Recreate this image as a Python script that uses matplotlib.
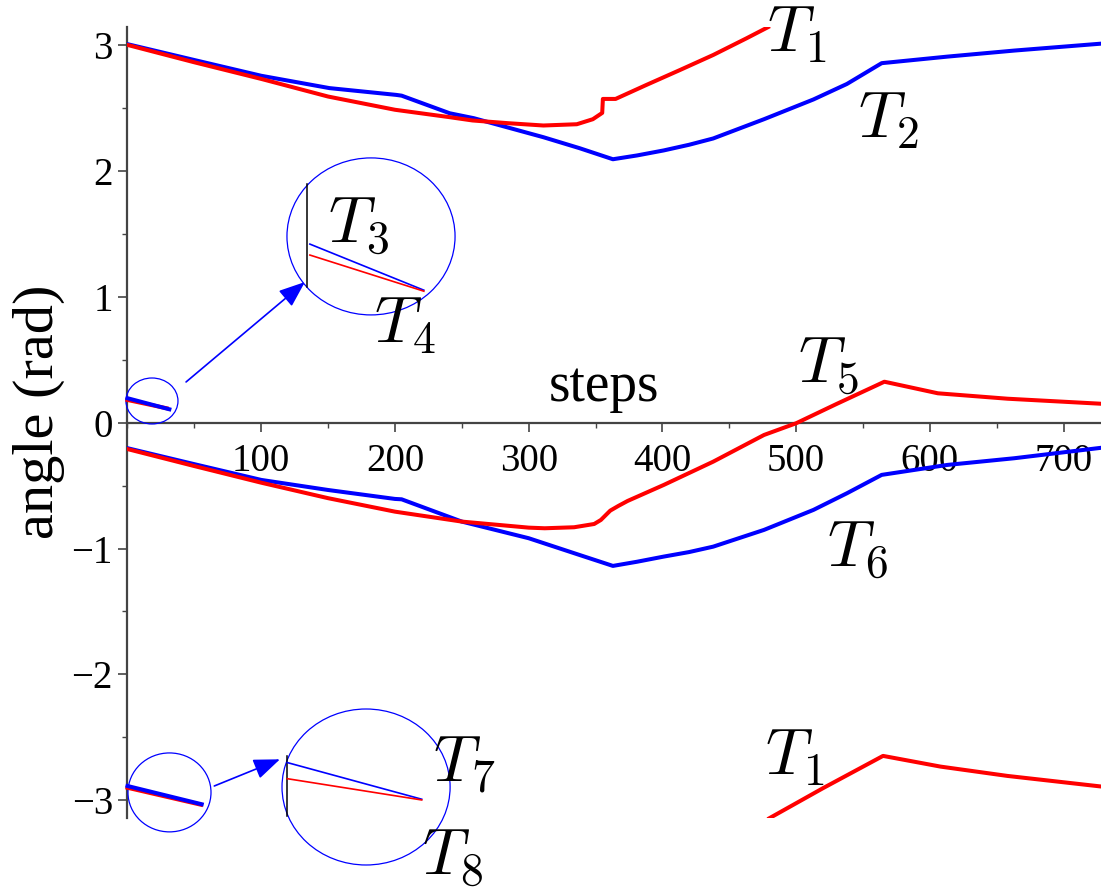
"""
Angle traces T1..T8 over simulation steps, with zoom-in circles near the origin.
"""
import matplotlib
matplotlib.use("Agg")
import matplotlib.pyplot as plt
from matplotlib.patches import Ellipse
from matplotlib.ticker import MultipleLocator

plt.rcParams["font.family"] = ["Liberation Serif", "DejaVu Serif"]
plt.rcParams["mathtext.fontset"] = "cm"

# ---- data (steps, angle in rad) ----
t1_x = [0, 50, 100, 150, 200, 241, 258, 285, 311, 336, 348, 355, 355.5, 365, 388, 413, 438, 463, 479]
t1_y = [3.00, 2.862, 2.73, 2.59, 2.485, 2.426, 2.40, 2.378, 2.36, 2.37, 2.41, 2.46, 2.571, 2.571,
        2.682, 2.80, 2.92, 3.053, 3.141]

# T1 wrapped past pi, continues from -pi
t1w_x = [480, 520, 565, 608, 658, 728]
t1w_y = [-3.142, -2.904, -2.647, -2.732, -2.806, -2.89]

t2_x = [0, 50, 100, 151, 201, 205, 241, 259, 311, 338, 363, 381, 401, 420, 438, 476, 513, 538, 564,
        613, 663, 728]
t2_y = [3.006, 2.88, 2.755, 2.657, 2.603, 2.597, 2.457, 2.418, 2.267, 2.18, 2.092, 2.122, 2.162,
        2.207, 2.257, 2.41, 2.567, 2.69, 2.855, 2.907, 2.955, 3.01]

t5_x = [0, 50, 100, 150, 200, 250, 300, 312, 334, 349, 354, 361, 367, 374, 401, 438, 476, 500, 530,
        566, 606, 658, 728]
t5_y = [-0.21, -0.345, -0.477, -0.60, -0.707, -0.786, -0.834, -0.839, -0.831, -0.805, -0.773, -0.699,
        -0.662, -0.622, -0.495, -0.31, -0.098, -0.005, 0.147, 0.325, 0.233, 0.19, 0.15]

t6_x = [0, 50, 100, 150, 200, 205, 250, 300, 338, 363, 381, 401, 420, 438, 476, 513, 538, 564, 613,
        663, 728]
t6_y = [-0.203, -0.33, -0.455, -0.535, -0.606, -0.609, -0.786, -0.918, -1.051, -1.138, -1.105,
        -1.064, -1.028, -0.985, -0.852, -0.693, -0.561, -0.415, -0.336, -0.283, -0.20]

# short traces T3/T4 (near 0.2 rad) and T7/T8 (near -2.9 rad)
t3_x, t3_y = [0, 31.3], [0.194, 0.106]
t4_x, t4_y = [0, 29.3], [0.18, 0.114]
t7_x, t7_y = [0, 55.5], [-2.886, -3.031]
t8_x, t8_y = [0, 55.0], [-2.90, -3.035]

# magnified copies drawn inside the big circles
zoom_top_x = [136.4, 221.6]
zoom_t3_y = [1.418, 1.052]
zoom_t4_y = [1.331, 1.044]
zoom_bot_x = [119.5, 220.0]
zoom_t7_y = [-2.70, -2.991]
zoom_t8_y = [-2.828, -2.997]

RED, BLUE = "#ff0000", "#0000ff"
LW = 2.9

fig = plt.figure(figsize=(11.01, 8.89), dpi=100)
ax = fig.add_axes([0.1158, 0.0799, 0.8842, 0.8894])
ax.set_xlim(0, 728)
ax.set_ylim(-3.14, 3.14)

# main curves
ax.plot(t2_x, t2_y, color=BLUE, lw=LW, zorder=3)
ax.plot(t6_x, t6_y, color=BLUE, lw=LW, zorder=3)
ax.plot(t1_x, t1_y, color=RED, lw=LW, zorder=4)
ax.plot(t1w_x, t1w_y, color=RED, lw=LW, zorder=4)
ax.plot(t5_x, t5_y, color=RED, lw=LW, zorder=4)
ax.plot(t4_x, t4_y, color=RED, lw=LW, zorder=4, clip_on=False)
ax.plot(t3_x, t3_y, color=BLUE, lw=LW, zorder=5, clip_on=False)
ax.plot(t8_x, t8_y, color=RED, lw=LW, zorder=4, clip_on=False)
ax.plot(t7_x, t7_y, color=BLUE, lw=LW, zorder=5, clip_on=False)

# zoom circles
for (cx, cy, w, h) in [(18.3, 0.172, 38.9, 0.365), (182.1, 1.479, 125.7, 1.247),
                       (31.4, -2.937, 62.1, 0.627), (178.4, -2.894, 125.7, 1.239)]:
    ax.add_patch(Ellipse((cx, cy), w, h, fill=False, ec=BLUE, lw=0.9, clip_on=False, zorder=2))

# magnified insets
ax.plot([134.5, 134.5], [1.077, 1.894], color="black", lw=1.1)
ax.plot(zoom_top_x, zoom_t3_y, color=BLUE, lw=1.2)
ax.plot(zoom_top_x, zoom_t4_y, color=RED, lw=1.2)
ax.plot([119.5, 119.5], [-2.648, -3.122], color="black", lw=1.1, clip_on=False)
ax.plot(zoom_bot_x, zoom_t7_y, color=BLUE, lw=1.2)
ax.plot(zoom_bot_x, zoom_t8_y, color=RED, lw=1.2)

arrow = dict(arrowstyle="-|>,head_length=0.9,head_width=0.35", color=BLUE, lw=1.2,
             shrinkA=0, shrinkB=0, mutation_scale=18)
ax.annotate("", xy=(132.7, 1.117), xytext=(43.8, 0.323), arrowprops=arrow)
ax.annotate("", xy=(114, -2.674), xytext=(64.9, -2.886), arrowprops=arrow)

# curve labels
labels = [(r"$T_1$", 500.7, 3.071), (r"$T_2$", 568.8, 2.392), (r"$T_3$", 172.4, 1.562),
          (r"$T_4$", 207.5, 0.76), (r"$T_5$", 524.4, 0.45), (r"$T_6$", 545.6, -1.011),
          (r"$T_7$", 251.7, -2.723), (r"$T_8$", 243.0, -3.458), (r"$T_1$", 499.3, -2.671)]
for s, x, y in labels:
    ax.text(x, y, s, fontsize=47, ha="center", va="center", zorder=6, clip_on=False)

ax.text(356, 0.17, "steps", fontsize=40, ha="center", va="baseline")
fig.text(0.035, 1 - 412 / 889, "angle (rad)", fontsize=42, rotation=90, ha="center", va="center")

# Maple-style axes through the origin
for side in ("top", "right"):
    ax.spines[side].set_visible(False)
ax.spines["bottom"].set_position(("data", 0))
for side in ("left", "bottom"):
    ax.spines[side].set_color("#444444")
    ax.spines[side].set_linewidth(1.6)
    ax.spines[side].set_zorder(1)

ax.set_xticks([100, 200, 300, 400, 500, 600, 700])
ax.xaxis.set_minor_locator(MultipleLocator(50))
ax.set_yticks([-3, -2, -1, 0, 1, 2, 3])
ax.yaxis.set_minor_locator(MultipleLocator(0.5))
ax.tick_params(which="major", length=6.5, width=1.2, color="#444444", labelsize=28)
ax.tick_params(which="minor", length=3.6, width=1.0, color="#444444")
ax.tick_params(axis="x", which="major", pad=8)
ax.tick_params(axis="y", which="major", pad=4)

fig.savefig("out.png", dpi=100)
